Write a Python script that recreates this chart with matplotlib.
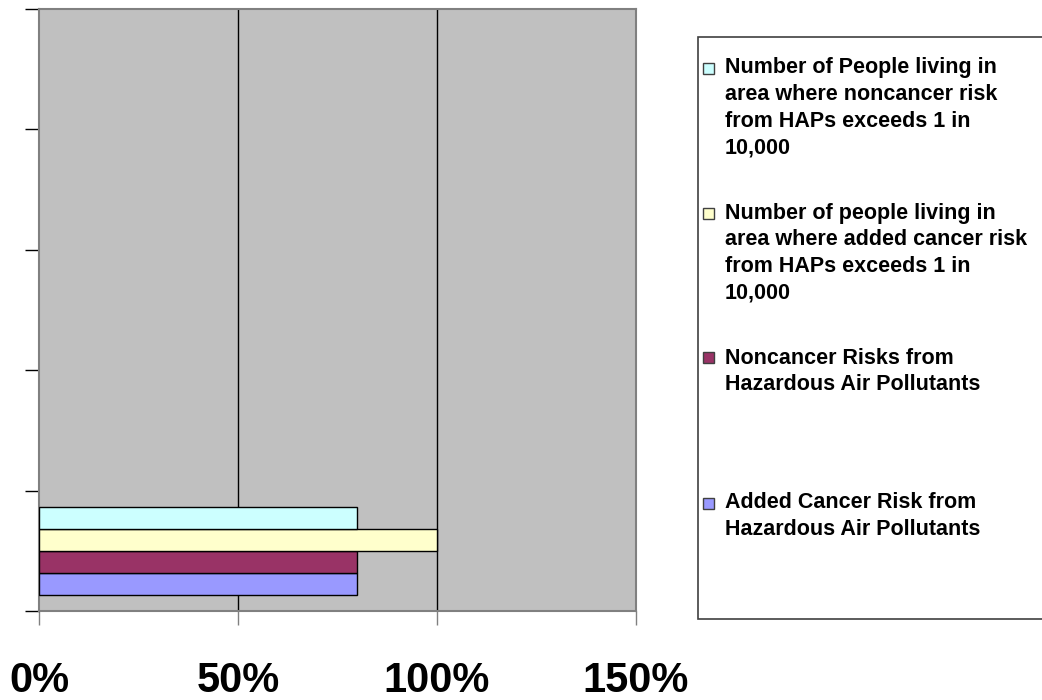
import matplotlib
matplotlib.use("Agg")
import matplotlib.pyplot as plt
from matplotlib.patches import Rectangle
import numpy as np

plt.rcParams['font.family'] = ['Liberation Sans', 'DejaVu Sans']

# Data
series_labels = [
    "Added Cancer Risk from\nHazardous Air Pollutants",
    "Noncancer Risks from\nHazardous Air Pollutants",
    "Number of people living in\narea where added cancer risk\nfrom HAPs exceeds 1 in\n10,000",
    "Number of People living in\narea where noncancer risk\nfrom HAPs exceeds 1 in\n10,000",
]
series_values = [0.80, 0.80, 1.00, 0.80]  # fractions (percent of 100%)
series_colors = ["#9999FF", "#993366", "#FFFFCC", "#CCFFFF"]
x_ticks = [0, 0.5, 1.0, 1.5]
x_tick_labels = ["0%", "50%", "100%", "150%"]
n_bands = 5

W, H = 1042, 700
fig = plt.figure(figsize=(W / 100, H / 100), dpi=100)
ax = fig.add_axes([39 / W, 1 - 611 / H, (636 - 39) / W, (611 - 9) / H])
ax.set_facecolor("#C0C0C0")

band_center = 0.5
group_h = 0.734
bar_h = group_h / len(series_values)
for i, (v, c) in enumerate(zip(series_values, series_colors)):
    y = band_center - group_h / 2 + bar_h * (i + 0.5)
    ax.barh(y, v, height=bar_h, color=c, edgecolor="black", linewidth=1, zorder=3)

ax.set_xlim(0, 1.5)
ax.set_ylim(0, n_bands)
ax.set_xticks(x_ticks)
ax.set_xticklabels(x_tick_labels, fontsize=30, fontweight="bold")
ax.set_yticks(np.arange(n_bands + 1))
ax.set_yticklabels([])
ax.tick_params(axis="x", direction="out", length=10, width=1, color="#808080", pad=26)
ax.tick_params(axis="y", direction="out", length=10, width=1, color="black")
for xv in [0.5, 1.0]:
    ax.axvline(xv, color="black", linewidth=1, zorder=1)
for s in ax.spines.values():
    s.set_color("#808080")
    s.set_linewidth(1.5)

# Legend (manual layout)
fig.patches.append(Rectangle((698 / W, 1 - 619 / H), (1045 - 698) / W, (619 - 37) / H,
                             transform=fig.transFigure, facecolor="white",
                             edgecolor="#404040", linewidth=1.2, zorder=0))
entry_tops = [68, 213, 358, 503]
legend_order = [3, 2, 1, 0]
for y0, idx in zip(entry_tops, legend_order):
    fig.patches.append(Rectangle((703 / W, 1 - (y0 + 5.5) / H), 11 / W, 11 / H,
                                 transform=fig.transFigure, facecolor=series_colors[idx],
                                 edgecolor="#404040", linewidth=1, zorder=2))
    lines = series_labels[idx].split("\n")
    for k, line in enumerate(lines):
        fig.text(725 / W, 1 - (y0 + 26.7 * k) / H, line, fontsize=15.5,
                 fontweight="bold", va="center", ha="left")

fig.savefig("out.png", dpi=100)
